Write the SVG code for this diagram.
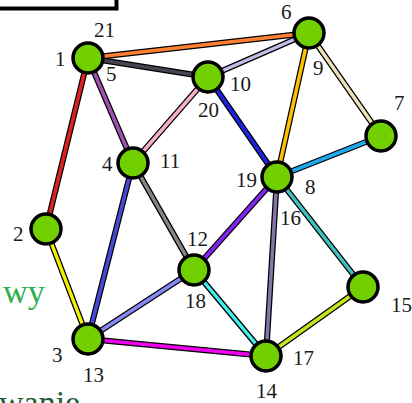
<svg xmlns="http://www.w3.org/2000/svg" width="412" height="403" viewBox="0 0 412 403">
<style>
.lbl{font-family:"Liberation Serif","Times New Roman",serif;font-size:21px;fill:#1a1a1a}
.big{font-family:"Liberation Serif","Times New Roman",serif;font-size:34px}
.node{fill:#72d000;stroke:#000;stroke-width:3.5}
.under{stroke:#000;stroke-width:6;stroke-linecap:round}
.edge{stroke-width:3.5;stroke-linecap:round}
</style>
<rect width="412" height="403" fill="#fff"/>
<path d="M-2,8.5 H116.5 V-2" fill="none" stroke="#000" stroke-width="4"/>
<text class="big" x="3" y="303" fill="#2db050" textLength="42" lengthAdjust="spacingAndGlyphs">wy</text>
<text class="big" x="-1" y="414" fill="#1f5a3a">wanie</text>
<g id="connectors">
<g class="under">
<line x1="88" y1="58" x2="309" y2="33"/>
<line x1="88" y1="58" x2="208" y2="77"/>
<line x1="88" y1="58" x2="46" y2="229"/>
<line x1="88" y1="58" x2="133" y2="163"/>
<line x1="309" y1="33" x2="208" y2="77"/>
<line x1="309" y1="33" x2="277" y2="177"/>
<line x1="309" y1="33" x2="381" y2="136"/>
<line x1="208" y1="77" x2="133" y2="163"/>
<line x1="208" y1="77" x2="277" y2="177"/>
<line x1="381" y1="136" x2="277" y2="177"/>
<line x1="133" y1="163" x2="194" y2="270"/>
<line x1="133" y1="163" x2="88" y2="339"/>
<line x1="46" y1="229" x2="88" y2="339"/>
<line x1="277" y1="177" x2="194" y2="270"/>
<line x1="277" y1="177" x2="266" y2="356"/>
<line x1="277" y1="177" x2="363" y2="287"/>
<line x1="194" y1="270" x2="88" y2="339"/>
<line x1="194" y1="270" x2="266" y2="356"/>
<line x1="88" y1="339" x2="266" y2="356"/>
<line x1="363" y1="287" x2="266" y2="356"/>
</g>
<g class="edge">
<line x1="88" y1="58" x2="309" y2="33" stroke="#ff8030"/>
<line x1="88" y1="58" x2="208" y2="77" stroke="#45454d"/>
<line x1="88" y1="58" x2="46" y2="229" stroke="#e02020"/>
<line x1="88" y1="58" x2="133" y2="163" stroke="#a050b0"/>
<line x1="309" y1="33" x2="208" y2="77" stroke="#c4bce8"/>
<line x1="309" y1="33" x2="277" y2="177" stroke="#ffc000"/>
<line x1="309" y1="33" x2="381" y2="136" stroke="#ebe3b8"/>
<line x1="208" y1="77" x2="133" y2="163" stroke="#f4b0c8"/>
<line x1="208" y1="77" x2="277" y2="177" stroke="#2020e0"/>
<line x1="381" y1="136" x2="277" y2="177" stroke="#20a8e8"/>
<line x1="133" y1="163" x2="194" y2="270" stroke="#858585"/>
<line x1="133" y1="163" x2="88" y2="339" stroke="#4848d8"/>
<line x1="46" y1="229" x2="88" y2="339" stroke="#f0f000"/>
<line x1="277" y1="177" x2="194" y2="270" stroke="#8424f0"/>
<line x1="277" y1="177" x2="266" y2="356" stroke="#8474a8"/>
<line x1="277" y1="177" x2="363" y2="287" stroke="#40c0c0"/>
<line x1="194" y1="270" x2="88" y2="339" stroke="#8888f4"/>
<line x1="194" y1="270" x2="266" y2="356" stroke="#40f0f0"/>
<line x1="88" y1="339" x2="266" y2="356" stroke="#f000f0"/>
<line x1="363" y1="287" x2="266" y2="356" stroke="#c4e420"/>
</g>
</g>
<g id="n1"><circle class="node" cx="88" cy="58" r="15"/><text class="lbl" x="94" y="37">21</text><text class="lbl" x="55" y="66">1</text><text class="lbl" x="106" y="81">5</text></g>
<g id="n6"><circle class="node" cx="309" cy="33" r="15"/><text class="lbl" x="281" y="19">6</text><text class="lbl" x="313" y="75">9</text></g>
<g id="n7"><circle class="node" cx="381" cy="136" r="15"/><text class="lbl" x="394" y="110">7</text></g>
<g id="n10"><circle class="node" cx="208" cy="77" r="15"/><text class="lbl" x="230" y="91">10</text><text class="lbl" x="198" y="117">20</text></g>
<g id="n4"><circle class="node" cx="133" cy="163" r="15"/><text class="lbl" x="102" y="171">4</text><text class="lbl" x="160" y="168">11</text></g>
<g id="n19"><circle class="node" cx="277" cy="177" r="15"/><text class="lbl" x="236" y="187">19</text><text class="lbl" x="305" y="194">8</text><text class="lbl" x="280" y="225">16</text></g>
<g id="n2"><circle class="node" cx="46" cy="229" r="15"/><text class="lbl" x="13" y="241">2</text></g>
<g id="n12"><circle class="node" cx="194" cy="270" r="15"/><text class="lbl" x="187" y="246">12</text><text class="lbl" x="185" y="308">18</text></g>
<g id="n15"><circle class="node" cx="363" cy="287" r="15"/><text class="lbl" x="391" y="312">15</text></g>
<g id="n3"><circle class="node" cx="88" cy="339" r="15"/><text class="lbl" x="52" y="362">3</text><text class="lbl" x="83" y="382">13</text></g>
<g id="n14"><circle class="node" cx="266" cy="356" r="15"/><text class="lbl" x="293" y="365">17</text><text class="lbl" x="256" y="398">14</text></g>
</svg>
